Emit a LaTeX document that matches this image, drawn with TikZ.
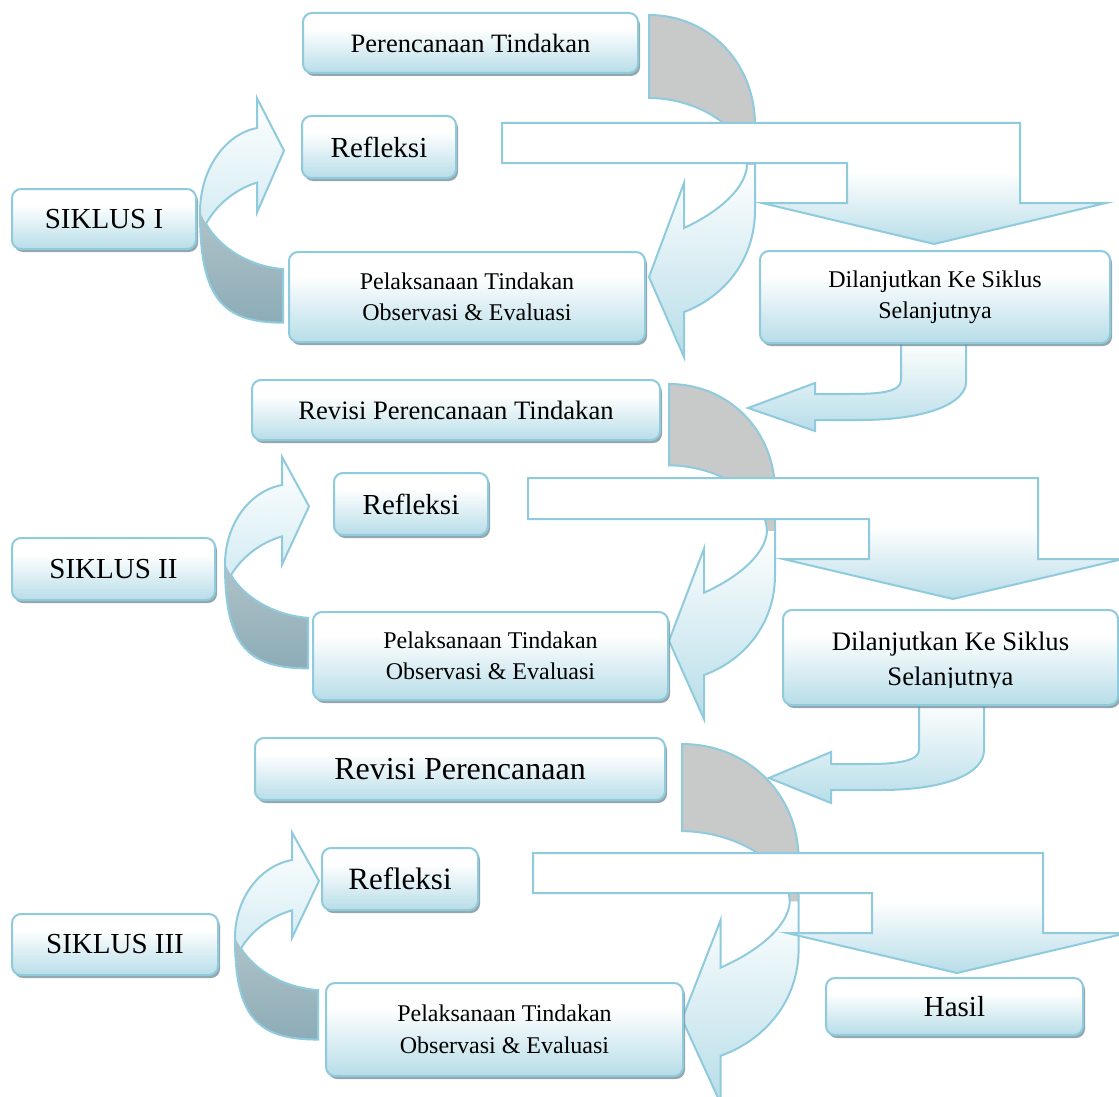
\documentclass[tikz,border=0pt]{standalone}
\usepackage{fontspec}
\setmainfont{Liberation Serif}
\usetikzlibrary{shadows}
\definecolor{lb}{RGB}{183,221,232}
\definecolor{lbl}{RGB}{212,236,243}
\definecolor{bd}{RGB}{143,203,220}
\definecolor{gr}{RGB}{200,201,201}
\definecolor{dka}{RGB}{176,194,200}
\definecolor{dkb}{RGB}{140,172,183}
\definecolor{shd}{RGB}{120,145,153}
\pgfdeclareverticalshading{arrowshade}{100bp}{color(0bp)=(lb); color(25bp)=(lb); color(55bp)=(white); color(100bp)=(white)}
\pgfdeclareverticalshading{boxshade}{100bp}{color(0bp)=(lb); color(25bp)=(lb); color(62bp)=(white); color(100bp)=(white)}
\tikzset{
  bline/.style={draw=bd, line width=2pt},
  box/.style={shade, shading=boxshade, draw=bd, line width=2pt, rounded corners=9pt,
    inner sep=0pt, align=center, text=black,
    drop shadow={shadow xshift=2pt, shadow yshift=-3pt, fill=shd, opacity=0.8}},
  fa/.style={font=\fontsize{26.5}{32}\selectfont},
  fb/.style={font=\fontsize{29}{34}\selectfont},
  fc/.style={font=\fontsize{24}{31}\selectfont},
}
% big curved arrow: grey back part and blue front part with arrow head
\newcommand\bigcurve[4]{%
 \begin{scope}[shift={(#1,#2)},xscale=#3,yscale=#4]
  \fill[gr] (0,0) .. controls (60,0) and (106,48) .. (106,110) -- (106,150) -- (98,150) .. controls (96,110) and (45,83) .. (0,83) -- cycle;
  \shade[top color=white,bottom color=lb] (106,150) -- (106,195) .. controls (106,245) and (75,282) .. (35,297) -- (35,342) -- (0,262) -- (35,168) -- (35,213) .. controls (72,196) and (97,172) .. (98,150) -- cycle;
  \draw[bline] (0,0) .. controls (60,0) and (106,48) .. (106,110) -- (106,195) .. controls (106,245) and (75,282) .. (35,297) -- (35,342) -- (0,262) -- (35,168) -- (35,213) .. controls (72,196) and (97,172) .. (98,150) .. controls (96,110) and (45,83) .. (0,83) -- cycle;
 \end{scope}}
% left curved arrow: light front part with head, dark back part
\newcommand\leftcurve[3]{%
 \begin{scope}[shift={(#1,#2)},yscale=#3]
  \shade[top color=white,bottom color=lbl] (-51,93) -- (-57,82) .. controls (-57,40) and (-32,6) .. (0,0) -- (0,-29) -- (27,22) -- (0,82) -- (0,53) .. controls (-24,60) and (-42,77) .. (-51,93) -- cycle;
  \shade[top color=dka,bottom color=dkb] (-57,82) .. controls (-57,165) and (-35,189) .. (26,189) -- (26,137) .. controls (-10,134) and (-38,115) .. (-51,93) -- cycle;
  \draw[bline] (0,53) .. controls (-24,60) and (-42,77) .. (-51,93) .. controls (-38,115) and (-10,134) .. (26,137) -- (26,189) .. controls (-35,189) and (-57,165) .. (-57,82) .. controls (-57,40) and (-32,6) .. (0,0) -- (0,-29) -- (27,22) -- (0,82) -- cycle;
 \end{scope}}
\begin{document}
\begin{tikzpicture}[x=1pt,y=-1pt]
\useasboundingbox[fill=white] (0,0) rectangle (1119,1097);

% big curved arrows (grey back + blue front)
\bigcurve{649}{15}{1}{1}
\bigcurve{669}{384}{1}{0.98}
\bigcurve{682}{744}{1.1}{1.05}

% bent arrows
\shadedraw[shading=arrowshade, bline] (502,123) -- (1020,123) -- (1020,203) -- (1106,203) -- (934,244) -- (762,203) -- (847,203) -- (847,163) -- (502,163) -- cycle;
\shadedraw[shading=arrowshade, bline] (528,478) -- (1038,478) -- (1038,559) -- (1123,559) -- (953,599) -- (783,559) -- (869,559) -- (869,519) -- (528,519) -- cycle;
\shadedraw[shading=arrowshade, bline] (533,853) -- (1043,853) -- (1043,933) -- (1127,933) -- (957,973) -- (787,933) -- (872,933) -- (872,893) -- (533,893) -- cycle;

% U-turn arrows
\shadedraw[top color=white, bottom color=lb, bline] (901,340) -- (901,380) .. controls (901,392) and (880,394) .. (850,394) -- (815,394) -- (815,383) -- (748,408) -- (815,431) -- (815,420) -- (860,420) .. controls (930,420) and (966,402) .. (966,382) -- (966,340) -- cycle;
\shadedraw[top color=white, bottom color=lb, bline] (919,700) -- (919,750) .. controls (919,760) and (900,764) .. (870,764) -- (831,764) -- (831,752) -- (769,778) -- (831,803) -- (831,790) -- (880,790) .. controls (950,790) and (984,772) .. (984,750) -- (984,700) -- cycle;

% left curved arrows
\leftcurve{257}{128}{1.03}
\leftcurve{282}{485}{0.97}
\leftcurve{292}{860}{0.95}

% row 1 boxes
\node[box, fa, minimum width=335pt, minimum height=60pt] (p1) at (470.5,43) {Perencanaan Tindakan};
\node[box, fb, minimum width=154pt, minimum height=62pt] (r1) at (379,147) {Refleksi};
\node[box, fb, minimum width=184pt, minimum height=60pt] (s1) at (104,219) {SIKLUS I};
\node[box, fc, minimum width=356pt, minimum height=90pt] (pe1) at (467,297) {Pelaksanaan Tindakan\\Observasi \& Evaluasi};
\node[box, fc, minimum width=350pt, minimum height=92pt] (d1) at (935,297) {Dilanjutkan Ke Siklus\\Selanjutnya};

% row 2 boxes
\node[box, font=\fontsize{26.6}{32}\selectfont, minimum width=408pt, minimum height=60pt] (rv2) at (456,410) {Revisi Perencanaan Tindakan};
\node[box, fb, minimum width=154pt, minimum height=62pt] (r2) at (411,504) {Refleksi};
\node[box, fb, minimum width=203pt, minimum height=62pt] (s2) at (113.5,569) {SIKLUS II};
\node[box, fc, minimum width=355pt, minimum height=88pt] (pe2) at (490.5,656) {Pelaksanaan Tindakan\\Observasi \& Evaluasi};
\node[box, minimum width=335pt, minimum height=95pt] (d2) at (950.5,657.5) {};
\begin{scope}
  \clip (760,600) rectangle (1120,687);
  \node[font=\fontsize{26.7}{35}\selectfont, align=center, inner sep=0pt] (d2t) at (950.5,662) {Dilanjutkan Ke Siklus\\Selanjutnya};
\end{scope}

% row 3 boxes
\node[box, font=\fontsize{32}{38}\selectfont, minimum width=410pt, minimum height=62pt] (rv3) at (460,769) {Revisi Perencanaan};
\node[box, font=\fontsize{31}{36}\selectfont, minimum width=156pt, minimum height=62pt] (r3) at (400,879) {Refleksi};
\node[box, fb, minimum width=206pt, minimum height=61pt] (s3) at (115,944.5) {SIKLUS III};
\node[box, font=\fontsize{24}{32}\selectfont, minimum width=357pt, minimum height=93pt] (pe3) at (504.5,1029.5) {Pelaksanaan Tindakan\\Observasi \& Evaluasi};
\node[box, fb, minimum width=257pt, minimum height=57pt] (h3) at (954.5,1006.5) {Hasil};
\end{tikzpicture}
\end{document}
